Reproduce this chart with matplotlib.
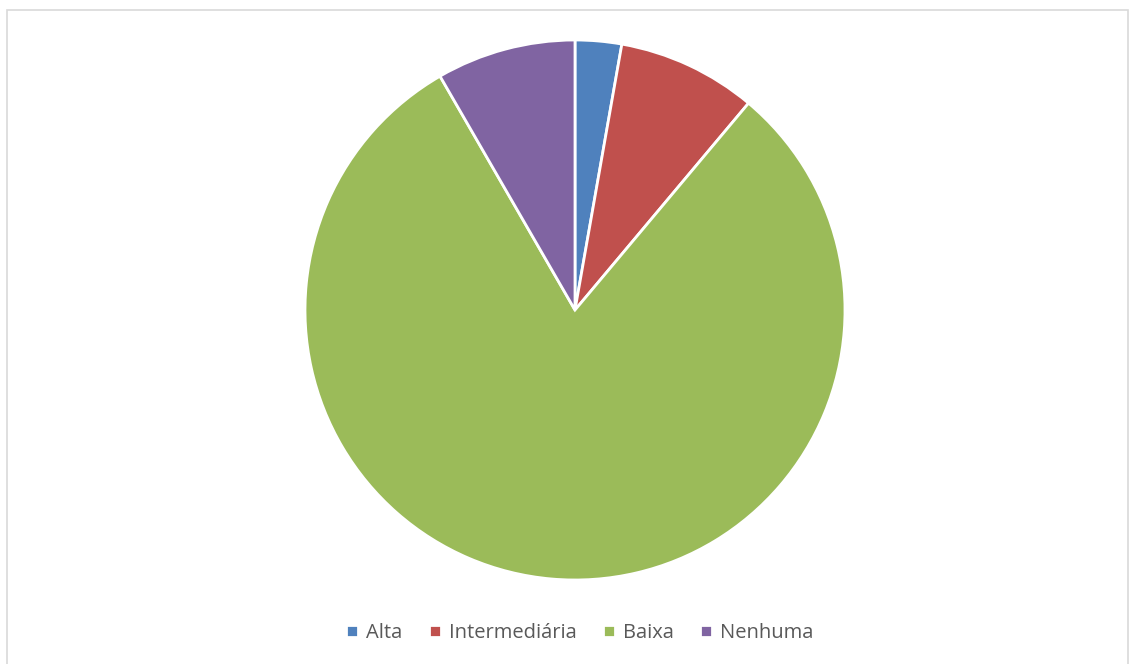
import matplotlib.pyplot as plt
from matplotlib.patches import Rectangle

# Data
labels = ['Alta', 'Intermediária', 'Baixa', 'Nenhuma']
values = [1, 3, 29, 3]
colors = ['#4F81BD', '#C0504D', '#9BBB59', '#8064A2']

W, H = 1131, 664
fig = plt.figure(figsize=(W / 100, H / 100), dpi=100)

# chart frame
fig.patches.append(Rectangle((7 / W, -0.01), (1128 - 7) / W, 1 - 10 / H + 0.01,
                             transform=fig.transFigure, fill=False,
                             edgecolor='#D9D9D9', linewidth=1.2))

cx, cy, r = 575, 310, 270
ax = fig.add_axes([(cx - r) / W, (H - cy - r) / H, 2 * r / W, 2 * r / H])
wedges, _ = ax.pie(values, colors=colors, startangle=90, counterclock=False,
                   wedgeprops=dict(edgecolor='white', linewidth=2))
ax.set_xlim(-1, 1)
ax.set_ylim(-1, 1)
ax.set_aspect('equal')
ax.axis('off')

fig.legend(wedges, labels, loc='center', bbox_to_anchor=(580 / W, 1 - 633 / H),
           ncol=4, frameon=False, handlelength=0.6, handleheight=0.6,
           handletextpad=0.4, columnspacing=1.3,
           prop={'family': 'Open Sans', 'size': 14.5}, labelcolor='#595959')

fig.savefig('out.png', dpi=100)
